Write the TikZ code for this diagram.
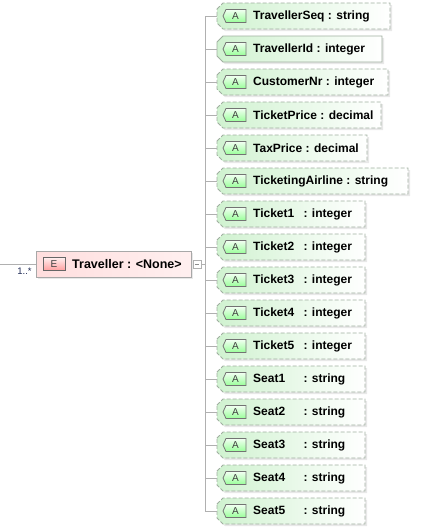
\documentclass[tikz,border=0pt]{standalone}
\usepackage{fontspec}
\setmainfont{Liberation Sans}
\usetikzlibrary{shadows}
\definecolor{treegray}{HTML}{B0B0B0}
\definecolor{boxgray}{HTML}{A0AFA0}
\definecolor{attrgreen}{HTML}{D0F2D0}
\definecolor{elemgray}{HTML}{A8A8A8}
\definecolor{multblue}{HTML}{1F2A55}
\tikzset{
  tree/.style={treegray,line width=0.8pt},
  optbox/.style={dash pattern=on 4pt off 2pt},
  reqbox/.style={solid},
  attrbox/.style={draw=boxgray,left color=attrgreen,right color=white,line width=0.8pt,
    drop shadow={shadow xshift=2pt,shadow yshift=-2pt,fill=black!15,opacity=.6}},
  abadge/.style={draw=black!55,top color=green!5,bottom color=green!40!white,line width=0.8pt},
  atext/.style={inner sep=0pt,font=\fontsize{10}{10}\selectfont,text=black!75},
  attrlabel/.style={anchor=west,inner sep=0pt,font=\fontsize{12}{13}\selectfont\bfseries},
  elembox/.style={rectangle,draw=elemgray,left color=red!13!white,right color=red!6!white,
    minimum width=155pt,minimum height=26pt,inner sep=0pt,line width=0.8pt,
    drop shadow={shadow xshift=2pt,shadow yshift=-2pt,fill=black!15,opacity=.6}},
  ebadge/.style={rectangle,draw=black!60,top color=red!6,bottom color=red!38!white,line width=0.8pt,
    minimum width=22pt,minimum height=13pt,inner sep=0pt,font=\fontsize{10}{10}\selectfont,text=black!75},
  minusbox/.style={rectangle,draw=treegray,fill=white,minimum size=8pt,inner sep=0pt},
  mult/.style={inner sep=0pt,font=\fontsize{9.5}{10}\selectfont,text=multblue}
}
\newcommand{\attrshape}[4]{% #1 name, #2 y, #3 right edge, #4 kind
\draw[attrbox,#4] (217,#2-7) -- (223,#2-13) -- (#3,#2-13) -- (#3,#2+13) -- (223,#2+13) -- (217,#2+7) -- cycle;
\coordinate (#1) at (217,#2);
\draw[abadge] (223,#2) -- (226,#2-6.5) -- (246,#2-6.5) -- (246,#2+6.5) -- (226,#2+6.5) -- cycle;
}
\begin{document}
\begin{tikzpicture}[x=1pt,y=-1pt]
\useasboundingbox (0,0) rectangle (421,528);
\foreach \i/\name/\r/\kind in {1/TravellerSeq : string/390/optbox, 2/TravellerId : integer/382/reqbox,
  3/CustomerNr : integer/388/optbox, 4/TicketPrice : decimal/381/optbox,
  5/TaxPrice : decimal/367/optbox, 6/TicketingAirline : string/408/optbox} % edit here for attributes
{
\pgfmathsetmacro{\y}{16+33*(\i-1)}
\attrshape{a\i}{\y}{\r}{\kind}
\node[atext] (b\i) at (235.5,\y) {A};
\node[attrlabel] (l\i) at (253,\y) {\name};
}
\foreach \i/\n in {7/1,8/2,9/3,10/4,11/5} % edit here for tickets
{
\pgfmathsetmacro{\y}{16+33*(\i-1)}
\attrshape{a\i}{\y}{365}{optbox}
\node[atext] (b\i) at (235.5,\y) {A};
\node[attrlabel] (l\i) at (253,\y) {\makebox[47pt][l]{Ticket\n} : integer};
}
\foreach \i/\n in {12/1,13/2,14/3,15/4,16/5} % edit here for seats
{
\pgfmathsetmacro{\y}{16+33*(\i-1)}
\attrshape{a\i}{\y}{365}{optbox}
\node[atext] (b\i) at (235.5,\y) {A};
\node[attrlabel] (l\i) at (253,\y) {\makebox[47pt][l]{Seat\n} : string};
}
% element
\node[elembox] (tr) at (113.5,264) {};
\node[ebadge] (e) at (54,264) {E};
\node[attrlabel,font=\fontsize{12.5}{13}\selectfont\bfseries] (tl) at (72,264) {Traveller : <None>};
\node[minusbox] (mn) at (197,264) {};
\draw[black!45] ([xshift=2pt]mn.west) -- ([xshift=-2pt]mn.east);
\node[mult] (m) at (24.5,271) {1..*};
\coordinate (in) at (0,264);
\coordinate (trunk) at (205,264);
% connectors
\draw[tree] (in) -- (tr.west);
\draw[tree] (mn.east) -- (trunk);
\draw[tree] (trunk |- a1) -- (trunk |- a16);
\foreach \i in {1,...,16} % edit here for stubs
\draw[tree] (trunk |- a\i) -- (a\i);
\end{tikzpicture}
\end{document}
